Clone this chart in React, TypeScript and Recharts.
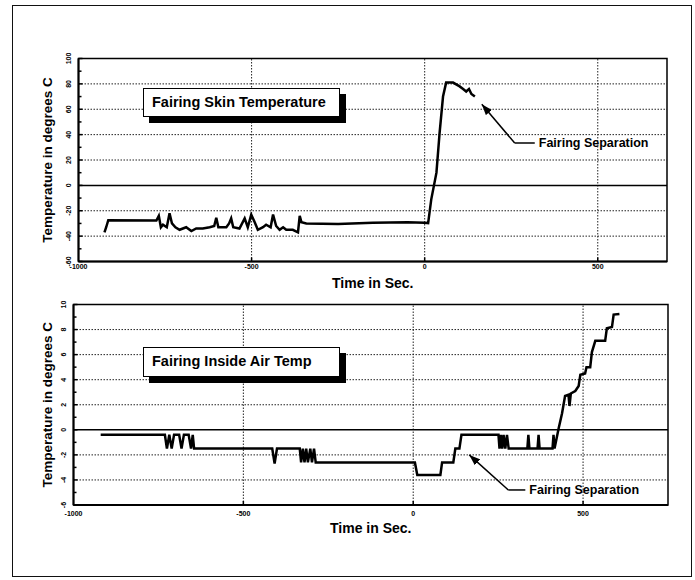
import { LineChart, Line, XAxis, YAxis, ReferenceLine, ReferenceArea, Label } from "recharts";

const FONT = '"Liberation Sans", Arial, Helvetica, sans-serif';

// top panel: fairing skin temperature
const skinTime = [
  -925, -920, -914, -775, -768, -762, -756, -745, -737, -730, -720, -708,
  -689, -674, -660, -641, -621, -608, -602, -596, -573, -565, -559, -553,
  -535, -520, -511, -501, -491, -482, -467, -458, -445, -438, -429, -419,
  -409, -400, -381, -366, -361, -356, -342, -250, -150, -50, 0, 10, 19, 34,
  43, 53, 62, 82, 101, 111, 120, 128, 135, 145,
];
const skinTemp = [
  -37, -33, -27.5, -27.7, -24, -33, -31, -33, -22, -30, -33, -35,
  -33, -36, -34, -34, -33, -32, -25.5, -33, -33, -30, -26, -33,
  -34, -26, -33, -23, -29, -35, -33, -31, -33, -23, -32, -35,
  -33, -35, -35, -37, -24, -29, -30, -30.5, -29.5, -29, -29.5, -29.7, -11, 10,
  41, 70, 81, 81, 78, 76, 74, 76, 72, 70,
];
const skinXTicks = [-1000, -500, 0, 500];
const skinYTicks = [-60, -40, -20, 0, 20, 40, 60, 80, 100];
const skinYMinor = [-50, -30, -10, 10, 30, 50, 70, 90];
// leader for "Fairing Separation": tip, elbow, end
const skinSepT = [165, 260, 318];
const skinSepV = [64, 33.4, 33.4];

// bottom panel: fairing inside air temperature
const airTime = [
  -920, -731, -725, -718, -711, -704, -689, -682, -675, -661, -654, -649,
  -645, -640, -415, -408, -401, -334, -330, -325, -320, -315, -310, -303,
  -298, -292, -287, 5, 12, 80, 85, 118, 124, 136, 142, 251, 254, 258, 262,
  266, 271, 276, 281, 336, 339, 342, 366, 369, 372, 410, 413, 416, 428, 438,
  447, 457, 460, 464, 477, 487, 492, 506, 510, 521, 526, 536, 565, 570, 585,
  590, 607,
];
const airTemp = [
  -0.4, -0.4, -1.5, -0.4, -1.5, -0.4, -0.4, -1.5, -0.4, -0.4, -1.5, -0.4,
  -1.5, -1.5, -1.5, -2.7, -1.5, -1.5, -2.6, -1.5, -2.6, -1.5, -2.6, -1.5,
  -2.6, -1.5, -2.6, -2.6, -3.6, -3.6, -2.6, -2.6, -1.5, -1.5, -0.4, -0.4, -1.5, -0.4, -1.5,
  -0.4, -1.5, -0.4, -1.5, -1.5, -0.4, -1.5, -1.5, -0.4, -1.5, -1.5, -0.4, -1.5, 0.1, 1.3,
  2.7, 2.8, 1.9, 2.9, 3.1, 3.5, 4.4, 4.5, 5.0, 5.0, 6.2, 7.1, 7.1, 8.1, 8.2,
  9.2, 9.25,
];
const airXTicks = [-1000, -500, 0, 500];
const airYTicks = [-6, -4, -2, 0, 2, 4, 6, 8, 10];
const airYMinor = [-5, -3, -1, 1, 3, 5, 7, 9];
const airSepT = [165, 280, 330];
const airSepV = [-2.0, -4.8, -4.8];

type PanelProps = {
  top: number;
  height: number;
  marginTop: number;
  marginBottom: number;
  marginRight: number;
  yWidth: number;
  time: number[];
  temp: number[];
  xDomain: [number, number];
  yDomain: [number, number];
  xTicks: number[];
  yTicks: number[];
  yMinor: number[];
  sepT: number[];
  sepV: number[];
  arrowId: string;
  xLabelDy: number;
  titleDy: number;
};

function Panel(p: PanelProps) {
  const rows = p.time.map((t, i) => ({ t, v: p.temp[i] }));
  const allY = [...p.yTicks, ...p.yMinor].sort((a, b) => a - b);

  const xTick = (props: any) => {
    const { x, y, payload } = props;
    const edge = payload.value === p.xDomain[0];
    return (
      <g>
        {!edge && <line x1={x} x2={x} y1={y} y2={y - 4} stroke="#000" strokeWidth={1.5} />}
        <text x={x} y={y + p.xLabelDy} textAnchor="middle" fontSize={7} fontWeight="bold" fontFamily={FONT} fill="#000">
          {payload.value}
        </text>
      </g>
    );
  };

  const yTick = (props: any) => {
    const { x, y, payload } = props;
    const major = p.yTicks.includes(payload.value);
    const lx = x - 10;
    return (
      <g>
        <line x1={x} x2={x + (major ? 4 : 3)} y1={y} y2={y} stroke="#000" strokeWidth={1.5} />
        {major && (
          <text x={lx} y={y} dy="0.35em" transform={`rotate(-90, ${lx}, ${y})`} textAnchor="middle" fontSize={7} fontWeight="bold" fontFamily={FONT} fill="#000">
            {payload.value}
          </text>
        )}
      </g>
    );
  };

  const dotted = { stroke: "#222", strokeWidth: 1, strokeDasharray: "1.5 1.5" };

  return (
    <div style={{ position: "absolute", left: 0, top: p.top }}>
      <LineChart
        width={695}
        height={p.height}
        data={rows}
        margin={{ top: p.marginTop, right: p.marginRight, bottom: p.marginBottom, left: 0 }}
      >
        <defs>
          <marker id={p.arrowId} viewBox="0 0 11 8" markerWidth={11} markerHeight={8} refX={11} refY={4} orient="auto-start-reverse" markerUnits="userSpaceOnUse">
            <path d="M0,0 L11,4 L0,8 z" fill="#000" />
          </marker>
        </defs>
        <XAxis
          dataKey="t"
          type="number"
          domain={p.xDomain}
          ticks={p.xTicks}
          interval={0}
          allowDataOverflow
          height={30}
          tickSize={0}
          tickMargin={0}
          tickLine={false}
          axisLine={{ stroke: "#000", strokeWidth: 2 }}
          tick={xTick}
        >
          <Label
            content={(lp: any) => {
              const vb = lp.viewBox;
              return (
                <text x={vb.x + vb.width / 2} y={vb.y + p.titleDy} textAnchor="middle" fontSize={14} fontWeight="bold" fontFamily={FONT} fill="#000">
                  Time in Sec.
                </text>
              );
            }}
          />
        </XAxis>
        <YAxis
          type="number"
          domain={p.yDomain}
          ticks={allY}
          interval={0}
          allowDataOverflow
          width={p.yWidth}
          tickSize={0}
          tickMargin={0}
          tickLine={false}
          axisLine={{ stroke: "#000", strokeWidth: 2 }}
          tick={yTick}
        >
          <Label
            content={(lp: any) => {
              const vb = lp.viewBox;
              const cx = 47;
              const cy = vb.y + vb.height / 2;
              return (
                <text x={cx} y={cy} dy="0.35em" transform={`rotate(-90, ${cx}, ${cy})`} textAnchor="middle" fontSize={13.5} fontWeight="bold" fontFamily={FONT} fill="#000">
                  Temperature in degrees C
                </text>
              );
            }}
          />
        </YAxis>
        {p.yTicks
          .filter((v) => v !== 0 && v !== p.yDomain[0] && v !== p.yDomain[1])
          .map((v) => (
            <ReferenceLine key={"gy" + v} y={v} {...dotted} />
          ))}
        {p.xTicks
          .filter((v) => v !== p.xDomain[0])
          .map((v) => (
            <ReferenceLine key={"gx" + v} x={v} {...dotted} />
          ))}
        <ReferenceLine y={0} stroke="#000" strokeWidth={1.5} />
        <ReferenceArea
          x1={p.xDomain[0]}
          x2={p.xDomain[1]}
          y1={p.yDomain[0]}
          y2={p.yDomain[1]}
          fill="none"
          stroke="#000"
          strokeWidth={1.5}
        />
        <Line
          dataKey="v"
          type="linear"
          stroke="#000"
          strokeWidth={2.5}
          dot={false}
          isAnimationActive={false}
        />
        <ReferenceLine
          segment={[
            { x: p.sepT[0], y: p.sepV[0] },
            { x: p.sepT[1], y: p.sepV[1] },
          ]}
          stroke="#000"
          strokeWidth={1.5}
          markerStart={`url(#${p.arrowId})`}
        />
        <ReferenceLine
          segment={[
            { x: p.sepT[1], y: p.sepV[1] },
            { x: p.sepT[2], y: p.sepV[2] },
          ]}
          stroke="#000"
          strokeWidth={1.5}
          label={{
            value: "Fairing Separation",
            position: "right",
            offset: 4,
            fill: "#000",
            fontSize: 12.5,
            fontWeight: "bold",
            fontFamily: FONT,
          }}
        />
      </LineChart>
    </div>
  );
}

function LegendBox({ left, top, height, text }: { left: number; top: number; height: number; text: string }) {
  return (
    <div
      style={{
        position: "absolute",
        left,
        top,
        width: 197,
        height,
        boxSizing: "border-box",
        border: "1.5px solid #000",
        background: "#fff",
        boxShadow: "6px 6px 0 #000",
        fontFamily: FONT,
        fontWeight: "bold",
        fontSize: 14.5,
        lineHeight: `${height - 3}px`,
        paddingLeft: 8,
        color: "#000",
        whiteSpace: "nowrap",
      }}
    >
      {text}
    </div>
  );
}

export default function App() {
  return (
    <div style={{ position: "absolute", left: 0, top: 0, width: 695, height: 580, background: "#fff" }}>
      <div
        style={{
          position: "absolute",
          left: 12,
          top: 5,
          width: 680,
          height: 572,
          boxSizing: "border-box",
          border: "1.5px solid #111",
        }}
      />
      <Panel
        top={0}
        height={300}
        marginTop={58.5}
        marginBottom={8.5}
        marginRight={28}
        yWidth={78.5}
        time={skinTime}
        temp={skinTemp}
        xDomain={[-1000, 700]}
        yDomain={[-60, 100]}
        xTicks={skinXTicks}
        yTicks={skinYTicks}
        yMinor={skinYMinor}
        sepT={skinSepT}
        sepV={skinSepV}
        arrowId="arrowSkin"
        xLabelDy={7.5}
        titleDy={26.5}
      />
      <Panel
        top={290}
        height={260}
        marginTop={14.5}
        marginBottom={15}
        marginRight={27}
        yWidth={73.5}
        time={airTime}
        temp={airTemp}
        xDomain={[-1000, 750]}
        yDomain={[-6, 10]}
        xTicks={airXTicks}
        yTicks={airYTicks}
        yMinor={airYMinor}
        sepT={airSepT}
        sepV={airSepV}
        arrowId="arrowAir"
        xLabelDy={10.5}
        titleDy={28}
      />
      <LegendBox left={143} top={88} height={29} text="Fairing Skin Temperature" />
      <LegendBox left={143} top={347} height={30} text="Fairing Inside Air Temp" />
    </div>
  );
}
